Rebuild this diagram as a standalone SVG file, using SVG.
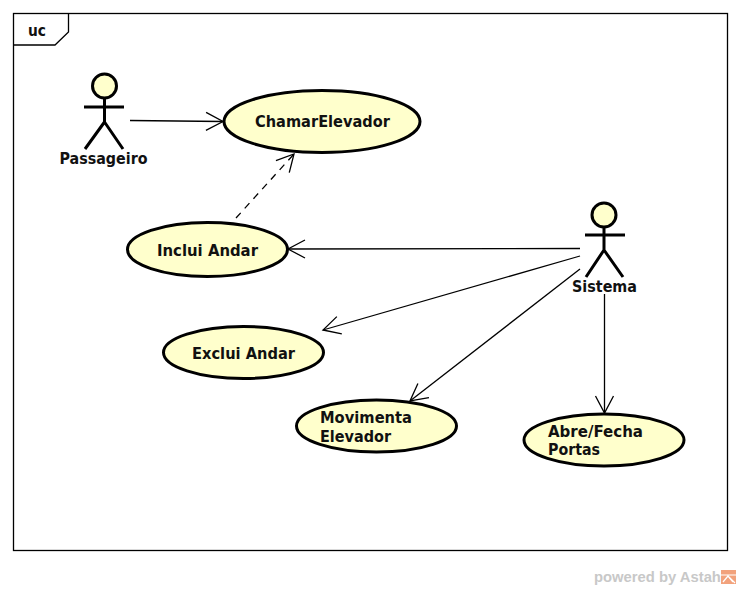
<svg xmlns="http://www.w3.org/2000/svg" width="741" height="590" viewBox="0 0 741 590">
<style>
.uc{fill:#ffffcc;stroke:#000;stroke-width:3}
.t{font-family:"DejaVu Sans",sans-serif;font-weight:bold;font-size:15px;fill:#111}
.fig{fill:none;stroke:#000;stroke-width:3}
.head{fill:#ffffcc;stroke:#000;stroke-width:3}
.c{fill:none;stroke:#000;stroke-width:1.3}
.frame{fill:none;stroke:#000;stroke-width:1.3}
</style>
<defs>
<marker id="open" markerUnits="userSpaceOnUse" markerWidth="24" markerHeight="24" refX="20" refY="12" orient="auto" viewBox="0 0 24 24">
<path d="M3 3 L20 12 L3 21" fill="none" stroke="#000" stroke-width="1.3"/>
</marker>
</defs>
<rect width="741" height="590" fill="#fff"/>
<g id="frame">
<rect class="frame" x="13.5" y="13.5" width="714" height="537"/>
<path class="frame" d="M13.5 45 H55 L68.5 32 V13.5"/>
<text class="t" x="28" y="36" textLength="18" lengthAdjust="spacingAndGlyphs">uc</text>
</g>
<g id="connectors">
<path class="c" d="M130 120.500 L223 121.500" marker-end="url(#open)"/>
<path class="c" d="M236 218 L294 154" stroke-dasharray="7 6" marker-end="url(#open)"/>
<path class="c" d="M580 248.500 L288 249" marker-end="url(#open)"/>
<path class="c" d="M580 256 L323 330" marker-end="url(#open)"/>
<path class="c" d="M580 269 L410 401" marker-end="url(#open)"/>
<path class="c" d="M604.500 294 L604.500 413" marker-end="url(#open)"/>
</g>
<g id="passageiro">
<circle class="head" cx="104.500" cy="86" r="12"/>
<path class="fig" d="M104.500 98 V122 M84 107 H124 M104.500 122 L85 149 M104.500 122 L123 149"/>
<text class="t" x="59.500" y="164" textLength="88" lengthAdjust="spacingAndGlyphs">Passageiro</text>
</g>
<g id="sistema">
<circle class="head" cx="604" cy="215" r="12"/>
<path class="fig" d="M604 227 V250 M585 235 H625 M604 250 L586 277 M604 250 L623 277"/>
<text class="t" x="572" y="292" textLength="65" lengthAdjust="spacingAndGlyphs">Sistema</text>
</g>
<g id="chamar">
<ellipse class="uc" cx="322" cy="121.500" rx="98" ry="31"/>
<text class="t" x="255" y="127" textLength="135" lengthAdjust="spacingAndGlyphs">ChamarElevador</text>
</g>
<g id="inclui">
<ellipse class="uc" cx="207.500" cy="249.500" rx="80" ry="27"/>
<text class="t" x="157" y="256" textLength="101" lengthAdjust="spacingAndGlyphs">Inclui Andar</text>
</g>
<g id="exclui">
<ellipse class="uc" cx="243.500" cy="352.500" rx="80" ry="26"/>
<text class="t" x="192" y="359" textLength="103" lengthAdjust="spacingAndGlyphs">Exclui Andar</text>
</g>
<g id="movimenta">
<ellipse class="uc" cx="376.500" cy="426" rx="80" ry="26"/>
<text class="t" x="320" y="423" textLength="92" lengthAdjust="spacingAndGlyphs">Movimenta</text>
<text class="t" x="320" y="442" textLength="71" lengthAdjust="spacingAndGlyphs">Elevador</text>
</g>
<g id="abre">
<ellipse class="uc" cx="604" cy="440" rx="80" ry="26"/>
<text class="t" x="548" y="437" textLength="95" lengthAdjust="spacingAndGlyphs">Abre/Fecha</text>
<text class="t" x="548" y="455" textLength="52" lengthAdjust="spacingAndGlyphs">Portas</text>
</g>
<g id="watermark">
<text x="594" y="582" font-family="'Liberation Sans',Arial,sans-serif" font-weight="bold" font-size="14.800" fill="#c8c8c8">powered by Astah</text>
<rect x="721" y="570" width="15" height="14" fill="#f2a27c"/>
<path d="M721 575 H736 M723 582 L728 576 L733 582 M729 577 L735 583" fill="none" stroke="#fff" stroke-width="1.200"/>
</g>
</svg>
